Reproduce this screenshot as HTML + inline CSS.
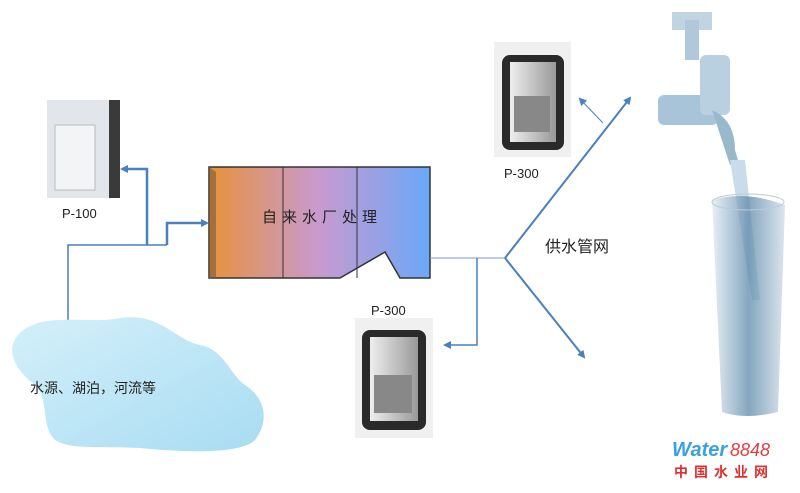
<!DOCTYPE html>
<html><head><meta charset="utf-8"><style>
body{margin:0;width:800px;height:488px;background:#fff;overflow:hidden;font-family:"Liberation Sans","Noto Sans CJK SC",sans-serif}
</style></head><body>
<svg width="800" height="488" viewBox="0 0 800 488" xmlns="http://www.w3.org/2000/svg">
<defs>
<linearGradient id="g" x1="0" x2="1"><stop offset="0" stop-color="#e8923a"/><stop offset="0.5" stop-color="#c89ad0"/><stop offset="1" stop-color="#6aa8f8"/></linearGradient>
<linearGradient id="lake" x1="0" y1="0" x2="1" y2="1"><stop offset="0" stop-color="#d4f0fa"/><stop offset="1" stop-color="#a8dcf2"/></linearGradient>
<linearGradient id="dev" x1="0" x2="1"><stop offset="0" stop-color="#eee"/><stop offset="1" stop-color="#999"/></linearGradient>
<linearGradient id="glass" x1="0" x2="1"><stop offset="0" stop-color="#dfeaf2"/><stop offset="0.5" stop-color="#5d88a8"/><stop offset="1" stop-color="#cfdde8"/></linearGradient>
<marker id="a" markerWidth="8" markerHeight="8" refX="6" refY="4" orient="auto" markerUnits="userSpaceOnUse"><path d="M0,0 L8,4 L0,8 z" fill="#4a7fc0"/></marker>
</defs>
<rect x="47" y="100" width="73" height="98" fill="#3a3a3a"/>
<rect x="47" y="100" width="62" height="98" fill="#e2e6ea"/>
<rect x="55" y="125" width="40" height="65" fill="#f2f4f5" stroke="#bbb"/>
<text x="62" y="218" font-size="13" fill="#222">P-100</text>
<path d="M209,167 H430 V278 H400 L385,252 L340,278 H209 Z" fill="url(#g)" stroke="#333" stroke-width="1.5"/>
<path d="M209,167 V278 H216 V172 Z" fill="#7a5a3a" opacity="0.6"/>
<line x1="283" y1="167" x2="283" y2="278" stroke="#333"/>
<line x1="357" y1="167" x2="357" y2="278" stroke="#333"/>
<text x="262" y="222" font-size="15" fill="#222" letter-spacing="5">自来水厂处理</text>
<polyline points="68,355 68,245 167,245" fill="none" stroke="#4a7fc0" stroke-width="1.5"/>
<polyline points="167,245 167,223 207,223" fill="none" stroke="#4a7fc0" stroke-width="2.5" marker-end="url(#a)"/>
<polyline points="147,245 147,169 122,169" fill="none" stroke="#4a7fc0" stroke-width="2.5" marker-end="url(#a)"/>
<line x1="430" y1="258" x2="505" y2="258" stroke="#7a9cc8" stroke-width="1"/>
<polyline points="477,258 477,345 445,345" fill="none" stroke="#4a7fc0" stroke-width="1.5" marker-end="url(#a)"/>
<line x1="505" y1="258" x2="630" y2="98" stroke="#4a7fc0" stroke-width="2" marker-end="url(#a)"/>
<line x1="505" y1="258" x2="584" y2="357" stroke="#4a7fc0" stroke-width="2" marker-end="url(#a)"/>
<line x1="603" y1="123" x2="580" y2="99" stroke="#4a7fc0" stroke-width="1" marker-end="url(#a)"/>
<text x="545" y="252" font-size="16" fill="#222">供水管网</text>
<rect x="494" y="42" width="77" height="115" fill="#f0f0f0"/>
<rect x="502" y="55" width="62" height="95" rx="8" fill="#2a2a2a"/>
<rect x="510" y="62" width="46" height="80" fill="url(#dev)"/>
<rect x="514" y="96" width="36" height="36" fill="#888"/>
<text x="504" y="178" font-size="13" fill="#222">P-300</text>
<text x="371" y="315" font-size="13" fill="#222">P-300</text>
<rect x="355" y="318" width="78" height="120" fill="#f0f0f0"/>
<rect x="362" y="330" width="64" height="100" rx="8" fill="#2a2a2a"/>
<rect x="370" y="337" width="48" height="84" fill="url(#dev)"/>
<rect x="374" y="375" width="38" height="38" fill="#888"/>
<path d="M18,335 C40,310 90,325 120,318 C160,312 175,340 200,345 C225,350 230,375 245,385 C265,398 270,420 255,440 C240,455 180,452 140,448 C100,446 70,450 55,440 C40,425 50,400 35,385 C15,370 5,350 18,335 Z" fill="url(#lake)"/>
<text x="30" y="393" font-size="14" fill="#222">水源、湖泊，河流等</text>
<rect x="658" y="95" width="60" height="30" rx="6" fill="#a8c4d8"/>
<rect x="700" y="55" width="30" height="60" rx="6" fill="#b8d0e0"/>
<rect x="672" y="12" width="40" height="18" fill="#c0d4e2"/>
<rect x="685" y="20" width="14" height="40" fill="#b0c8da"/>
<path d="M712,110 Q735,120 735,150 L738,160 L730,165 Z" fill="#9ab8cc"/>
<path d="M730,160 L745,160 L760,300 L752,300 Z" fill="#c8dcea"/>
<path d="M712,200 Q745,190 785,205 L778,412 Q745,420 722,412 Z" fill="url(#glass)" opacity="0.75"/>
<ellipse cx="748" cy="202" rx="36" ry="8" fill="none" stroke="#b8ccd8"/>
<text x="672" y="456" font-size="20" font-weight="bold" fill="#3aa0e0" font-style="italic">Water</text>
<text x="730" y="456" font-size="18" fill="#e04040" font-style="italic">8848</text>
<text x="674" y="477" font-size="14" font-weight="bold" fill="#e03030" letter-spacing="6">中国水业网</text>
</svg>
</body></html>
